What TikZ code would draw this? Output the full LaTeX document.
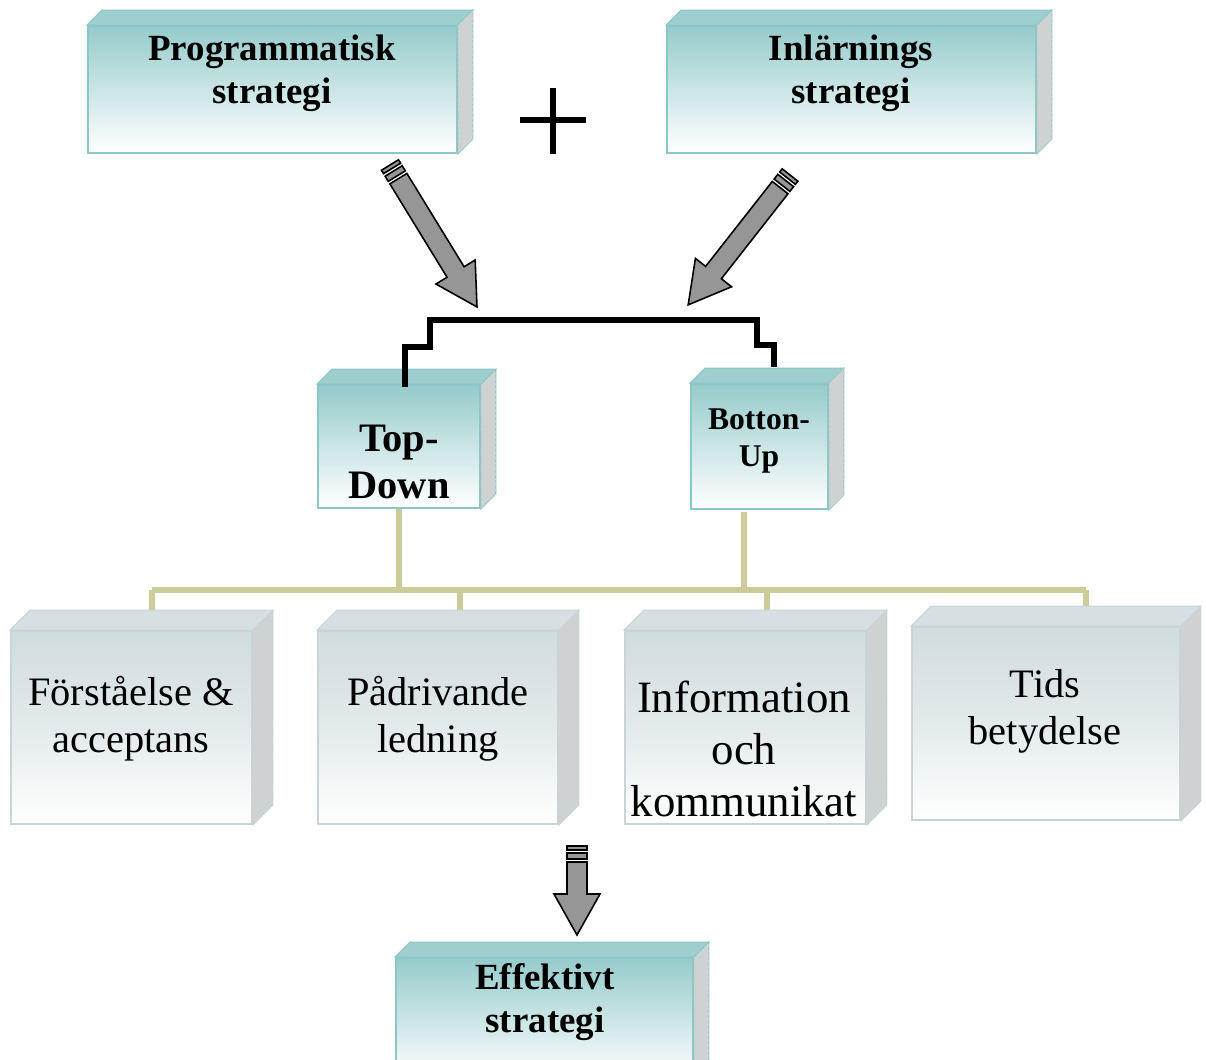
\documentclass[tikz,border=0pt]{standalone}
\usepackage{fontspec}
\setmainfont{Liberation Serif}
\usetikzlibrary{positioning, patterns, backgrounds}

\definecolor{tealtop}{RGB}{150,203,203}
\definecolor{tealedge}{RGB}{140,198,198}
\definecolor{tealface}{RGB}{158,206,206}
\definecolor{greytop}{RGB}{208,220,222}
\definecolor{greyedge}{RGB}{200,212,214}
\definecolor{greyface}{RGB}{214,223,225}
\definecolor{sideface}{RGB}{205,211,211}
\definecolor{busline}{RGB}{204,204,153}
\definecolor{arrowgrey}{RGB}{150,150,150}

% top and right faces of a box node: node, depth, face colour, edge colour
\newcommand{\boxfaces}[4]{%
  \filldraw[fill=#3, draw=#4, line width=0.6pt] (#1.north west) -- ++(#2,-#2) -- ([shift={(#2,-#2)}]#1.north east) -- (#1.north east) -- cycle;
  \filldraw[fill=sideface, draw=#4, line width=0.6pt, postaction={pattern=crosshatch, pattern color=white!65!gray}]
    (#1.north east) -- ++(#2,-#2) -- ([shift={(#2,-#2)}]#1.south east) -- (#1.south east) -- cycle;
}

% grey block arrow with two bands at its tail, drawn along +x
\newcommand{\pencilarrow}[1]{%
  \path[pencil] (0,-10) rectangle (4,10);
  \path[pencil] (7,-10) rectangle (13,10);
  \path[pencil] (16,-10) -- (#1-41,-10) -- (#1-41,-23) -- (#1,0) -- (#1-41,23) -- (#1-41,10) -- (16,10) -- cycle;
}

\begin{document}
\begin{tikzpicture}[x=0.02cm, y=-0.02cm,
    tealbox/.style={rectangle, draw=tealedge, line width=1.1pt, top color=tealtop, bottom color=white, middle color=tealtop!50!white, inner sep=0pt},
    greybox/.style={rectangle, draw=greyedge, line width=1.1pt, top color=greytop, bottom color=white, middle color=greytop!60!white, inner sep=0pt},
    headtxt/.style={align=center, font=\bfseries\fontsize{21}{24.5}\selectfont},
    itemtxt/.style={align=center, font=\fontsize{23}{26.8}\selectfont},
    bus/.style={draw=busline, line width=3.4pt},
    joinline/.style={draw=black, line width=3.6pt},
    pencil/.style={draw=black, fill=arrowgrey, line width=0.9pt}]

    \clip (0,0) rectangle (1206,1059);

    % strategy boxes
    \node [tealbox, minimum width=7.38cm, minimum height=2.54cm] (prog) at (272.5,89.5) {};
    \node [tealbox, minimum width=7.38cm, minimum height=2.54cm] (inl) at (851.5,89.5) {};
    \node [tealbox, minimum width=3.24cm, minimum height=2.46cm] (topdown) at (399,446.5) {};
    \node [tealbox, minimum width=2.74cm, minimum height=2.5cm] (bottomup) at (759.5,446.5) {};

    % factor boxes
    \node [greybox, minimum width=4.82cm, minimum height=3.86cm] (forst) at (131.5,727.5) {};
    \node [greybox, minimum width=4.8cm, minimum height=3.86cm] (padr) at (438,727.5) {};
    \node [greybox, minimum width=4.82cm, minimum height=3.86cm] (info) at (745.5,727.5) {};
    \node [greybox, minimum width=5.36cm, minimum height=3.86cm] (tids) at (1046,723.5) {};

    \node [tealbox, minimum width=5.94cm, minimum height=2.44cm] (eff) at (544.5,1019) {};

    \boxfaces{prog}{15}{tealface}{tealedge}
    \boxfaces{inl}{15}{tealface}{tealedge}
    \boxfaces{topdown}{15}{tealface}{tealedge}
    \boxfaces{bottomup}{15}{tealface}{tealedge}
    \boxfaces{forst}{20}{greyface}{greyedge}
    \boxfaces{padr}{20}{greyface}{greyedge}
    \boxfaces{info}{20}{greyface}{greyedge}
    \boxfaces{tids}{20}{greyface}{greyedge}
    \boxfaces{eff}{15}{tealface}{tealedge}

    % texts
    \node [headtxt] (progtxt) at (272,73) {Programmatisk\\strategi};
    \node [headtxt] (inltxt) at (851,73) {Inlärnings\\strategi};
    \node [headtxt, font=\bfseries\fontsize{23}{26.8}\selectfont] (topdowntxt) at (399,462) {Top-\\Down};
    \node [headtxt, font=\bfseries\fontsize{18}{21.5}\selectfont] (bottomuptxt) at (759,441) {Botton-\\Up};
    \node [itemtxt] (forsttxt) at (131,719) {Förståelse \&\\acceptans};
    \node [itemtxt] (padrtxt) at (438,719) {Pådrivande\\ledning};
    \node [itemtxt, font=\fontsize{25.5}{29.5}\selectfont] (infotxt) at (744,749) {Information\\och\\kommunikat};
    \node [itemtxt] (tidstxt) at (1045,711) {Tids\\betydelse};
    \node [headtxt] (efftxt) at (545,1002) {Effektivt\\strategi};

    % plus sign
    \draw [line width=3.6pt] (520,120) -- (586,120);
    \draw [line width=3.6pt] (553,88) -- (553,154);

    % joining line above the two approaches
    \coordinate (jl) at (430,320);
    \coordinate (jr) at (757,320);
    \draw [joinline] ([shift={(6,3)}]topdown.north) -- ++(0,-40) -| (jl) -- (jr) -- ++(0,25) -| ([shift={(14.5,-16)}]bottomup.north);

    % bus to the factor boxes
    \coordinate (bus-l) at (152,590);
    \coordinate (bus-p) at (460,590);
    \coordinate (bus-i) at (767,590);
    \coordinate (bus-r) at (1086,590);
    \coordinate (bu-foot) at ([shift={(-15.5,2)}]bottomup.south);
    \begin{pgfonlayer}{background}
    \draw [bus] (bus-l) -- (bus-r);
    \draw [bus] (topdown.south) -- (topdown.south |- bus-l);
    \draw [bus] (bu-foot) -- (bu-foot |- bus-l);
    \draw [bus] (bus-l) -- (bus-l |- forst.north);
    \draw [bus] (bus-p) -- (bus-p |- padr.north);
    \draw [bus] (bus-i) -- (bus-i |- info.north);
    \draw [bus] (bus-r) -- (bus-r |- tids.north);
    \end{pgfonlayer}

    % block arrows
    \coordinate (arrl-tail) at (390,165);
    \coordinate (arrr-tail) at (790,175);
    \coordinate (arrd-tail) at (577,846);
    \begin{scope}[shift={(arrl-tail)}, rotate=-58.5]
        \pencilarrow{166.5}
    \end{scope}
    \begin{scope}[shift={(arrr-tail)}, rotate=-128.1]
        \pencilarrow{165}
    \end{scope}
    \begin{scope}[shift={(arrd-tail)}, rotate=-90]
        \pencilarrow{89}
    \end{scope}

\end{tikzpicture}
\end{document}
